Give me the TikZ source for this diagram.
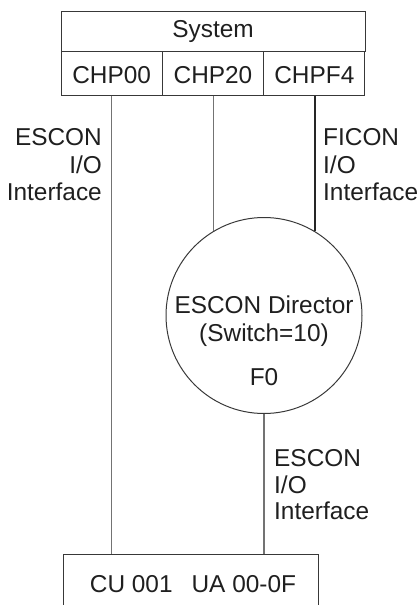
\documentclass[tikz,border=0pt]{standalone}
\usepackage{fontspec}
\setmainfont{Liberation Sans}
\begin{document}
\begin{tikzpicture}[x=1pt,y=-1pt,
  every node/.style={font=\fontsize{24.4}{28}\selectfont, text=black!88, inner sep=0pt},
  boxline/.style={draw=black!78, line width=1pt},
  link/.style={draw=black!55, line width=1.1pt},
  thicklink/.style={draw=black!85, line width=2.2pt},
  cell/.style={boxline, minimum width=101.33pt, minimum height=44pt},
  lblL/.style={anchor=base east},
  lblR/.style={anchor=base west},
  ctext/.style={anchor=base}
]
\useasboundingbox (0,0) rectangle (417,605);

% System box
\node[boxline, minimum width=304pt, minimum height=40pt] (sys) at (213,31) {};
\node[ctext] (systxt) at (213,37.5) {System};
\node[cell] (c00) at (111.67,73) {};
\node[cell] (c20) at (213,73) {};
\node[cell] (cf4) at (314.33,73) {};
\node[ctext] (t00) at (111.67,83) {CHP00};
\node[ctext] (t20) at (213,83) {CHP20};
\node[ctext] (tf4) at (314.33,83) {CHPF4};

% Director
\node[circle, boxline, minimum size=196pt] (dir) at (264,315.5) {};
\node[ctext] (d1) at (264,313) {ESCON Director};
\node[ctext] (d2) at (264,341) {(Switch=10)};
\node[ctext] (d3) at (264,385) {F0};

% Control unit (open at bottom)
\node[minimum width=255pt, minimum height=60pt, anchor=north west] (cu) at (63,554) {};
\draw[boxline] (cu.south west) -- (cu.north west) -- (cu.north east) -- (cu.south east);
\node[ctext] (cut) at (193,592) {CU 001\hspace{19pt}UA 00-0F};

% Links
\draw[link] (c00.south) -- (c00.south |- cu.north);
\draw[link] (dir.121.7) -- (dir.121.7 |- c20.south);
\draw[thicklink] (dir.59.5) -- (dir.59.5 |- cf4.south);
\draw[link] (dir.south) -- (dir.south |- cu.north);

% Labels
\node[lblL] (l1) at (102,145) {ESCON};
\node[lblL] (l2) at (102,173) {I/O};
\node[lblL] (l3) at (102,200) {Interface};
\node[lblR] (r1) at (323,145) {FICON};
\node[lblR] (r2) at (323,173) {I/O};
\node[lblR] (r3) at (323,200) {Interface};
\node[lblR] (b1) at (274,466) {ESCON};
\node[lblR] (b2) at (274,493) {I/O};
\node[lblR] (b3) at (274,519) {Interface};
\end{tikzpicture}
\end{document}
